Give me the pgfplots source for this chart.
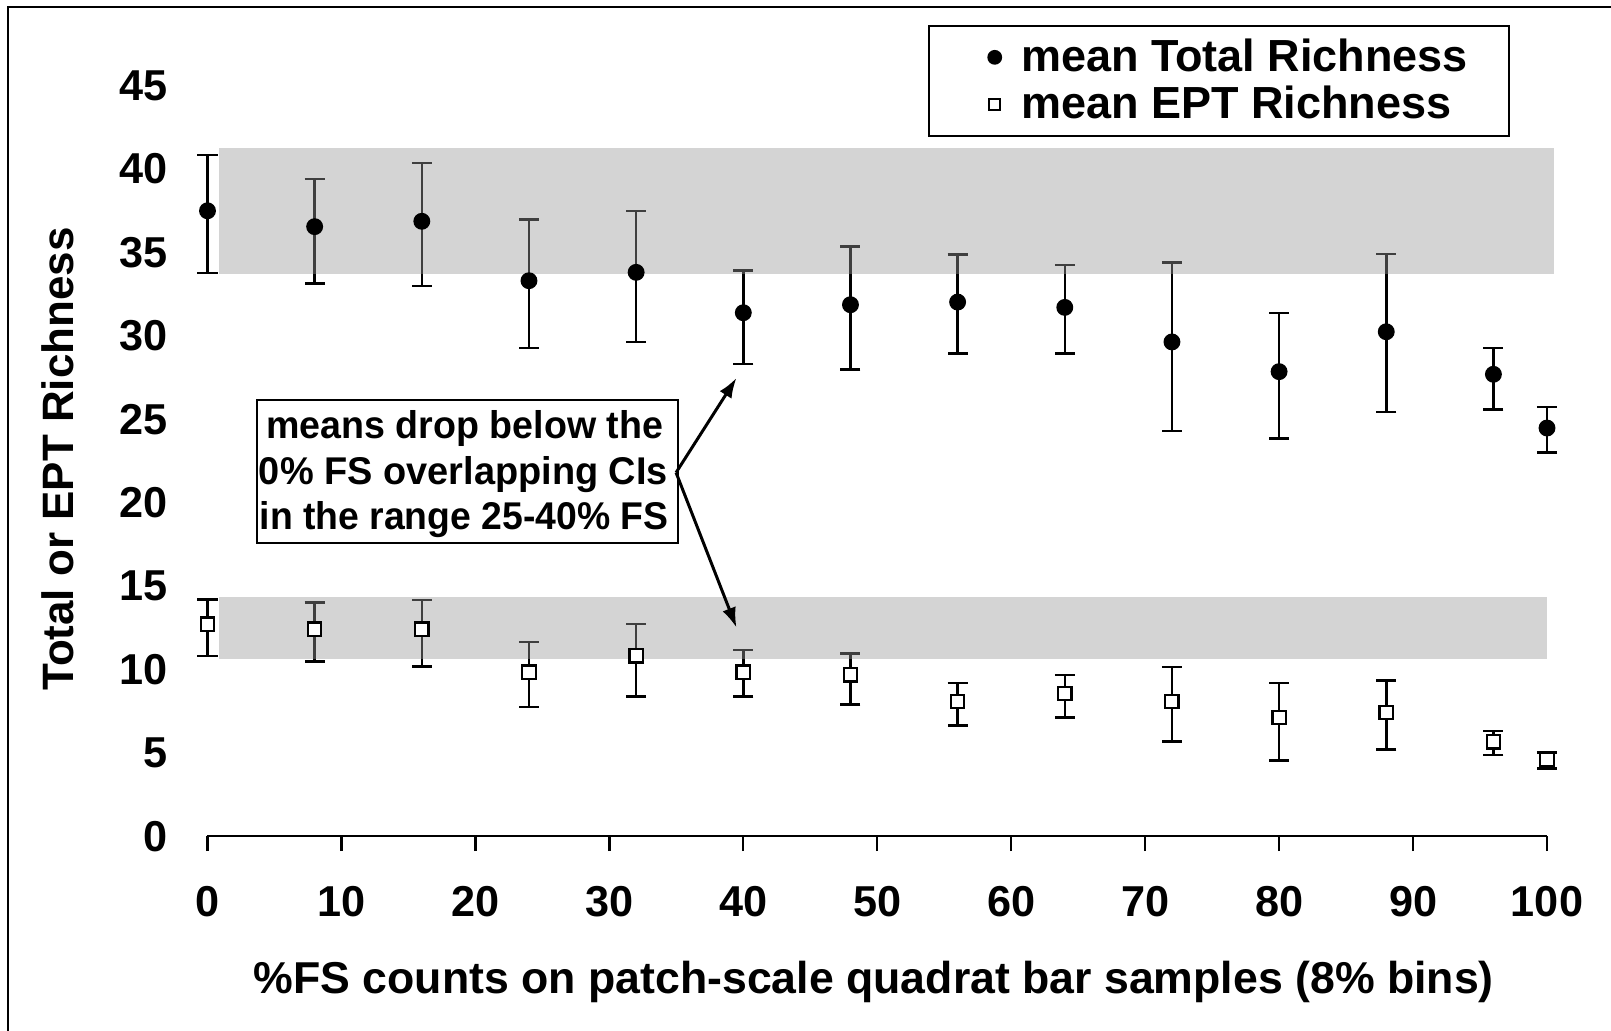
\documentclass[border=0pt]{standalone}
\usepackage{fontspec}
\setmainfont{Liberation Sans}
\usepackage{graphicx}
\usepackage{pgfplots}
\usepackage{pgfplotstable}
\pgfplotsset{compat=1.18}
\usetikzlibrary{arrows.meta}
\definecolor{bandgray}{RGB}{152,152,152}

\pgfplotstableread{
x y ep em
0 37.49 3.36 3.73
8 36.54 2.84 3.40
16 36.86 3.49 3.88
24 33.30 3.68 4.03
32 33.80 3.68 4.17
40 31.38 2.54 3.07
48 31.86 3.50 3.87
56 32.02 2.86 3.07
64 31.70 2.54 2.75
72 29.63 4.77 5.34
80 27.85 3.50 4.02
88 30.24 4.66 4.81
96 27.69 1.59 2.10
100 24.47 1.26 1.46
}\totaltab

\pgfplotstableread{
x y ep em
0 12.72 1.46 1.91
8 12.41 1.59 1.92
16 12.41 1.75 2.24
24 9.83 1.80 2.08
32 10.81 1.93 2.42
40 9.83 1.32 1.44
48 9.67 1.28 1.76
56 8.07 1.12 1.44
64 8.55 1.12 1.44
72 8.07 2.08 2.40
80 7.11 2.08 2.56
88 7.43 1.92 2.24
96 5.67 0.64 0.80
100 4.63 0.40 0.56
}\epttab

\begin{document}
\begin{tikzpicture}
\useasboundingbox (-2.075cm,-1.947cm) rectangle (14.035cm,8.363cm);
\draw[line width=0.6pt] (-1.995cm,-2.6cm) rectangle (14.6cm,8.293cm);
\begin{axis}[
  scale only axis, width=13.395cm, height=7.508cm,
  xmin=0, xmax=100, ymin=0, ymax=45,
  clip=false,
  axis x line*=bottom, axis y line*=left,
  y axis line style={draw=none},
  x axis line style={line width=0.66pt, -},
  xtick={0,10,...,100}, ytick={0,5,...,45},
  tick align=outside,
  major tick length=0.147cm,
  xtick style={line width=0.66pt, black},
  ytick style={draw=none},
  /pgf/number format/assume math mode=true,
  ticklabel style={font=\fontsize{12.3}{14}\selectfont\bfseries},
  xticklabel style={anchor=north, inner sep=0pt, yshift=-0.35cm},
  yticklabel style={anchor=east, inner sep=0pt, xshift=-0.242cm},
  xlabel={\%FS counts on patch-scale quadrat bar samples (8\% bins)},
  xlabel style={at={(axis description cs:0.4974,0)}, anchor=center, yshift=-1.459cm, font=\fontsize{12.7}{15}\selectfont\bfseries},
  ylabel={Total or EPT Richness},
  ylabel style={at={(axis description cs:0,0.5025)}, anchor=center, rotate=0, yshift=1.50cm, font=\fontsize{12.5}{14}\selectfont\bfseries},
  legend style={at={(axis cs:53.79,48.64)}, anchor=north west, draw=black, line width=0.7pt,
    inner xsep=0pt, inner ysep=0.077cm, fill=white,
    font=\fontsize{12.8}{15}\selectfont\bfseries,
    column sep=0pt, row sep=0pt, nodes={inner sep=0pt, anchor=west}},
  legend cell align=left,
  legend image code/.code={\path[draw=none, fill=none] (0cm,-0.2365cm) rectangle (0.92cm,0.2365cm);
    \draw[#1] plot[only marks] coordinates {(0.655cm,0cm)};},
]
% legend images
\addlegendimage{black, mark=*, mark size=1.75pt}
\addlegendentry{\makebox[4.88cm][l]{mean Total Richness}}
\addlegendimage{black, mark=square*, mark options={fill=white, line width=0.55pt}, mark size=1.55pt}
\addlegendentry{\makebox[4.88cm][l]{mean EPT Richness}}

% data
\addplot[forget plot, only marks, black, mark=*, mark size=2.2pt,
  error bars/.cd, y dir=both, y explicit,
  error bar style={line width=0.7pt, black},
  error mark options={rotate=90, mark size=2.85pt, line width=0.7pt, black}]
  table[x=x, y=y, y error plus=ep, y error minus=em] {\totaltab};
\addplot[forget plot, only marks, black, mark=square*, mark size=1.9pt,
  mark options={fill=white, line width=0.65pt},
  error bars/.cd, y dir=both, y explicit,
  error bar style={line width=0.7pt, black},
  error mark options={rotate=90, mark size=2.85pt, line width=0.7pt, black}]
  table[x=x, y=y, y error plus=ep, y error minus=em] {\epttab};

% shaded overlapping CI bands
\addplot[forget plot, fill=bandgray, fill opacity=0.42, draw=none]
  coordinates {(0.84,33.72) (100.5,33.72) (100.5,41.25) (0.84,41.25)} -- cycle;
\addplot[forget plot, fill=bandgray, fill opacity=0.42, draw=none]
  coordinates {(0.84,10.65) (100,10.65) (100,14.34) (0.84,14.34)} -- cycle;

% annotation
\node[draw, line width=0.6pt, anchor=north west, minimum width=4.21cm, minimum height=1.43cm,
  inner sep=0pt, fill=white] at (axis cs:3.62,26.2) {};
\begin{scope}[every node/.style={anchor=base west, inner sep=0pt, font=\fontsize{11}{12}\selectfont\bfseries}]
\node at (axis cs:4.345,23.87) {\resizebox{3.97cm}{\height}{means drop below the}};
\node at (axis cs:3.79,21.06) {\resizebox{4.09cm}{\height}{0\% FS overlapping CIs}};
\node at (axis cs:3.84,18.38) {\resizebox{4.09cm}{\height}{in the range 25-40\% FS}};
\end{scope}
\draw[line width=0.85pt, -{Latex[length=0.2cm,width=0.14cm]}] (axis cs:34.98,21.8) -- (axis cs:39.49,27.47);
\draw[line width=0.85pt, -{Latex[length=0.2cm,width=0.14cm]}] (axis cs:34.98,21.8) -- (axis cs:39.49,12.51);
\end{axis}
\end{tikzpicture}
\end{document}
